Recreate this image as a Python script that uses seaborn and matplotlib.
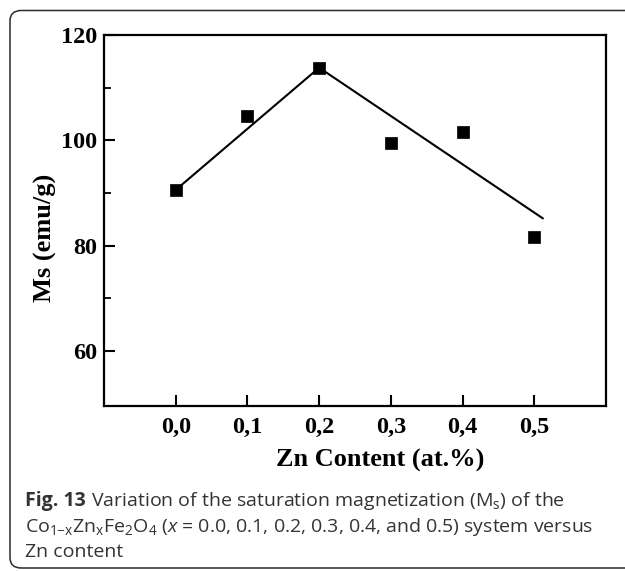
import matplotlib
matplotlib.use("Agg")
import matplotlib.pyplot as plt
import seaborn as sns
import pandas as pd
from matplotlib.patches import FancyBboxPatch
from matplotlib.ticker import FixedLocator

# data
zn_content = [0.0, 0.1, 0.2, 0.3, 0.4, 0.5]
ms_values = [90.6, 104.6, 113.7, 99.6, 101.5, 81.6]
fit_x = [0.0, 0.2, 0.512]
fit_y = [90.6, 113.8, 85.2]
x_ticks = [0.0, 0.1, 0.2, 0.3, 0.4, 0.5]
x_ticklabels = ["0,0", "0,1", "0,2", "0,3", "0,4", "0,5"]
y_ticks = [60, 80, 100, 120]
y_minor_ticks = [70, 90, 110]

sns.set_style("ticks", {"xtick.direction": "in", "ytick.direction": "in",
                        "xtick.color": "black", "ytick.color": "black",
                        "axes.edgecolor": "black"})
plt.rcParams["font.family"] = ["Liberation Serif", "DejaVu Serif"]
plt.rcParams["mathtext.fontset"] = "custom"
plt.rcParams["mathtext.rm"] = "Open Sans"
plt.rcParams["mathtext.it"] = "Open Sans:italic"
plt.rcParams["mathtext.bf"] = "Open Sans:bold"

W, H = 625, 571
fig = plt.figure(figsize=(W / 100, H / 100), dpi=100)
fig.patch.set_facecolor("white")

# rounded border box
box = FancyBboxPatch((10 / W, 1 - 568 / H), (660 - 10) / W, (568 - 10.5) / H,
                     boxstyle="round,pad=0,rounding_size=0.018",
                     transform=fig.transFigure, fill=False,
                     edgecolor="#2a2a2a", linewidth=1.1, clip_on=False)
fig.patches.append(box)

ax = fig.add_axes([104 / W, 1 - 406 / H, (606 - 104) / W, (406 - 35) / H])

df_pts = pd.DataFrame({"x": zn_content, "y": ms_values})
df_fit = pd.DataFrame({"x": fit_x, "y": fit_y})

sns.lineplot(data=df_fit, x="x", y="y", sort=False, color="black",
             linewidth=1.5, ax=ax, zorder=2)
sns.scatterplot(data=df_pts, x="x", y="y", marker="s", s=72, color="black",
                edgecolor="black", linewidth=0.5, ax=ax, zorder=3)

ax.set_xlim(-0.1, 0.6)
ax.set_ylim(49.6, 120)
ax.set_xticks(x_ticks)
ax.set_xticklabels(x_ticklabels)
ax.set_yticks(y_ticks)
ax.yaxis.set_minor_locator(FixedLocator(y_minor_ticks))

for sp in ax.spines.values():
    sp.set_visible(True)
    sp.set_linewidth(1.6)
    sp.set_color("black")

ax.tick_params(axis="both", which="major", direction="in", length=8,
               width=1.5, color="black", labelsize=17.5, labelcolor="black",
               bottom=True, left=True, top=False, right=False)
ax.tick_params(axis="y", which="minor", direction="in", length=5, width=1.3,
               color="black", left=True, right=False)
ax.tick_params(axis="x", which="minor", bottom=False, top=False)
ax.tick_params(axis="x", which="major", pad=8)
ax.tick_params(axis="y", which="major", pad=5)
for lab in ax.get_xticklabels() + ax.get_yticklabels():
    lab.set_fontweight("bold")

ax.set_xlabel("Zn Content (at.%)", fontsize=19, fontweight="bold", color="black")
ax.set_ylabel("Ms (emu/g)", fontsize=19, fontweight="bold", color="black")
ax.xaxis.set_label_coords((380 - 104) / 502, -(449 - 406) / 371)
ax.yaxis.set_label_coords(-(104 - 57) / 502, 1 - (237.5 - 35) / 371)

cap_color = "#333333"
cap_kw = dict(fontsize=14, color=cap_color, family=["Open Sans", "DejaVu Sans"],
              va="baseline", ha="left", transform=fig.transFigure)
bold_txt = fig.text(25 / W, 1 - 506 / H, "Fig. 13", fontweight="bold", **cap_kw)
fig.canvas.draw()
bb = bold_txt.get_window_extent(renderer=fig.canvas.get_renderer())
fig.text(bb.x1 / W + 5 / W, 1 - 506 / H,
         r"Variation of the saturation magnetization (M$_\mathrm{s}$) of the",
         **cap_kw)
fig.text(25 / W, 1 - 531.5 / H,
         r"Co$_{1\mathrm{-x}}$Zn$_\mathrm{x}$Fe$_2$O$_4$ ($x$ = 0.0, 0.1, 0.2, 0.3, 0.4, and 0.5) system versus",
         **cap_kw)
fig.text(25 / W, 1 - 557 / H, "Zn content", **cap_kw)

fig.savefig("out.png", dpi=100, facecolor="white")
